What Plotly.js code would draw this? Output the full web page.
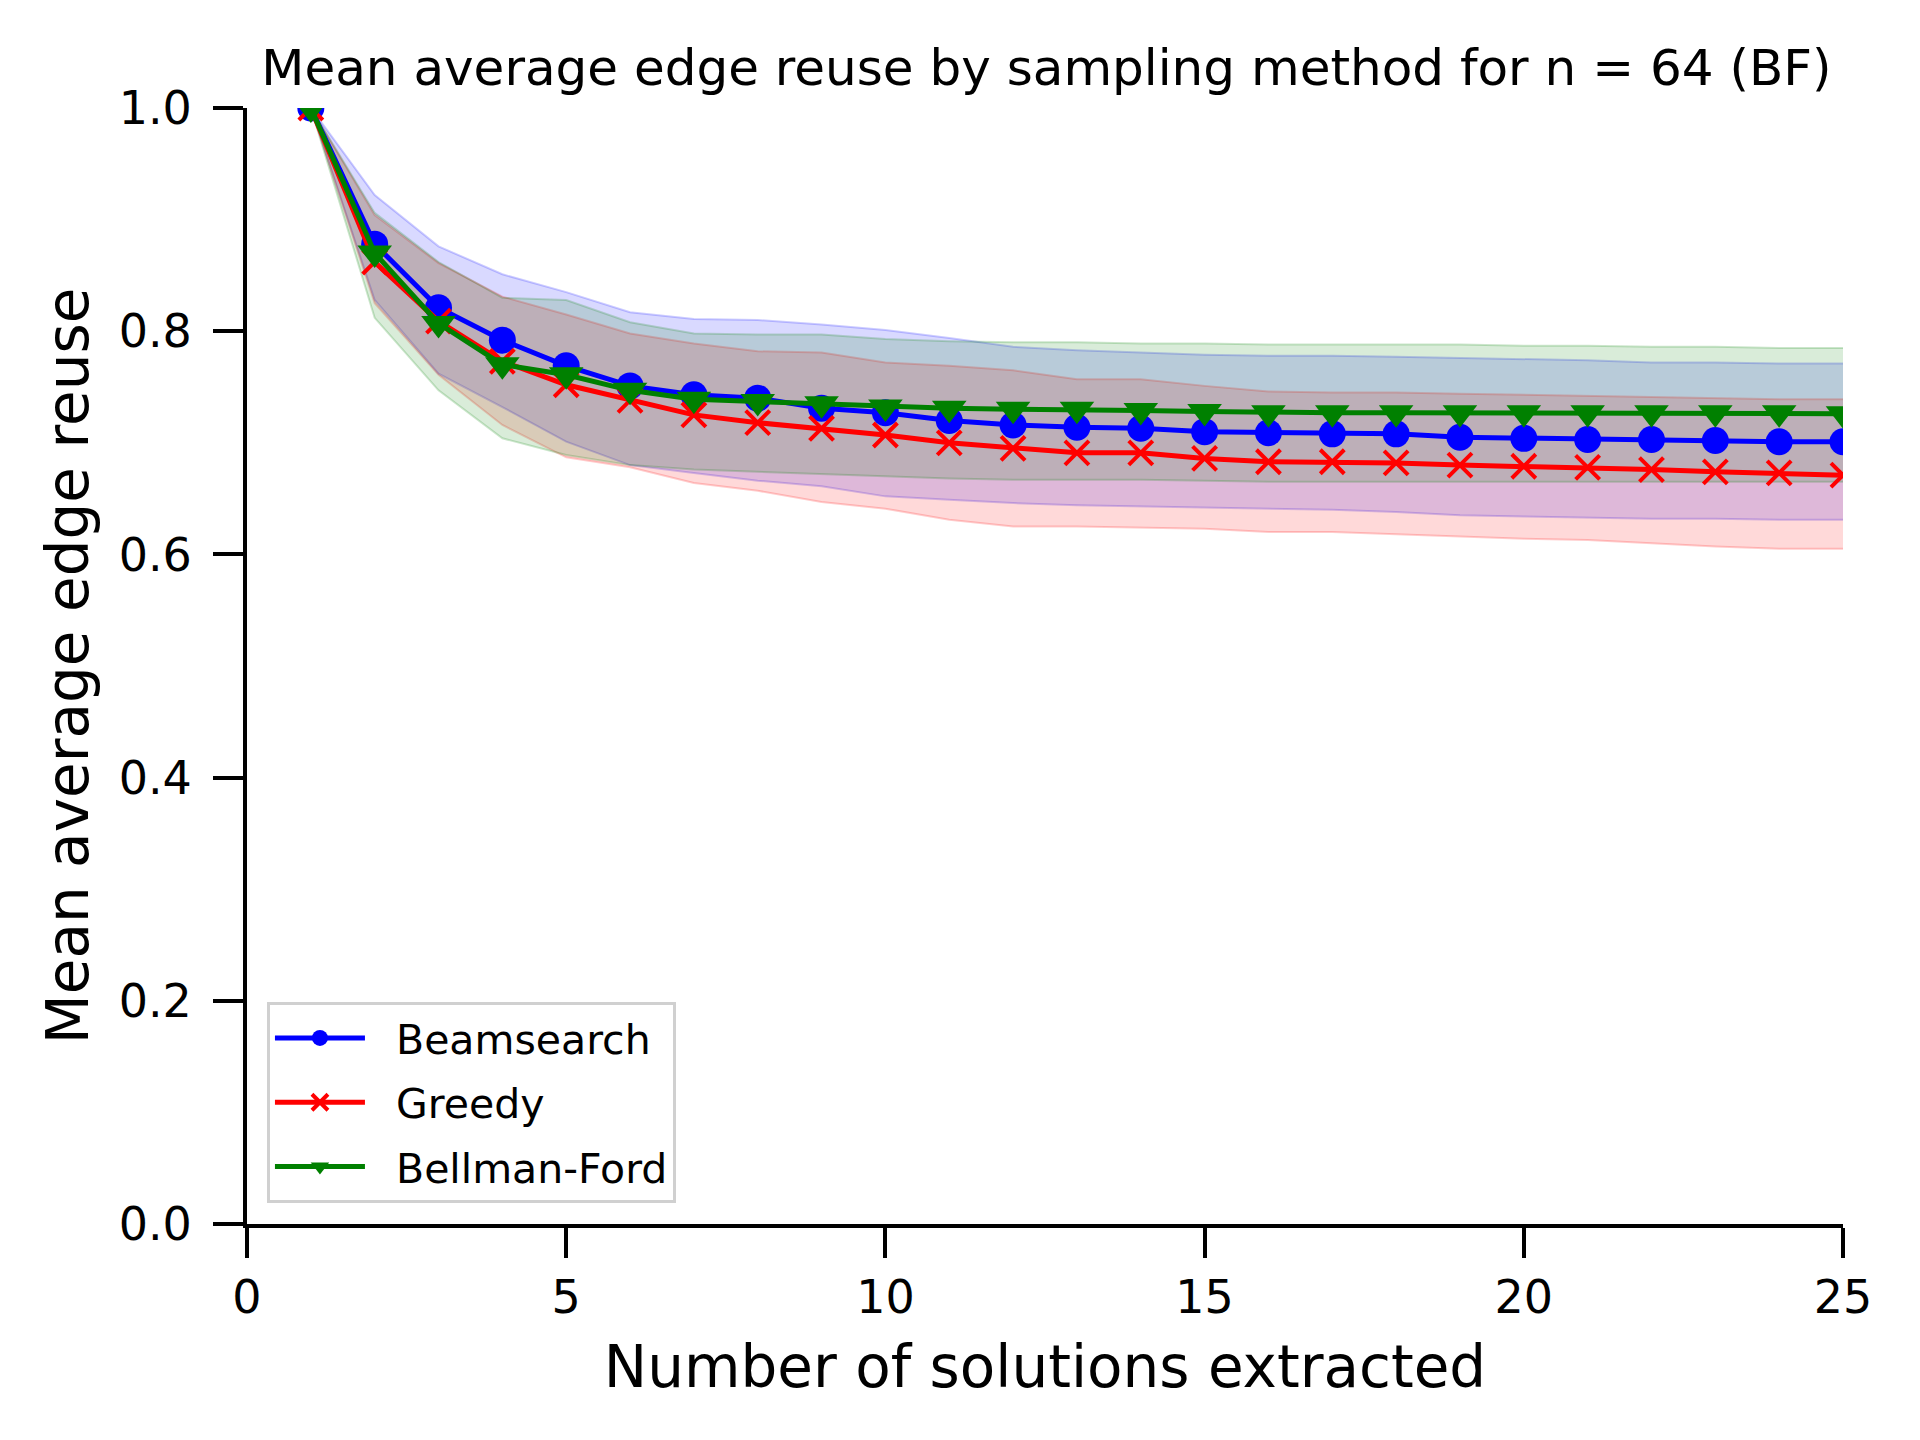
<!DOCTYPE html>
<html>
<head>
<meta charset="utf-8">
<script src="https://cdn.plot.ly/plotly-3.0.1.min.js"></script>
<style>
  body { margin: 0; background: #fff; }
  #chart { width: 1920px; height: 1440px; }
</style>
</head>
<body>
<div id="chart"></div>
<script>
var solutions = [1, 2, 3, 4, 5, 6, 7, 8, 9, 10, 11, 12, 13, 14, 15, 16, 17, 18, 19, 20, 21, 22, 23, 24, 25];

var beamMean  = [1.000, 0.878, 0.821, 0.792, 0.769, 0.751, 0.743, 0.740, 0.731, 0.727, 0.720, 0.716, 0.714, 0.713, 0.710, 0.709, 0.708, 0.708, 0.705, 0.704, 0.703, 0.703, 0.702, 0.701, 0.701];
var beamUpper = [1.000, 0.922, 0.876, 0.851, 0.835, 0.817, 0.811, 0.810, 0.806, 0.801, 0.794, 0.786, 0.783, 0.781, 0.779, 0.778, 0.778, 0.777, 0.776, 0.775, 0.774, 0.772, 0.772, 0.771, 0.771];
var beamLower = [1.000, 0.828, 0.762, 0.732, 0.701, 0.680, 0.673, 0.666, 0.661, 0.652, 0.649, 0.646, 0.644, 0.643, 0.642, 0.641, 0.640, 0.638, 0.635, 0.634, 0.633, 0.632, 0.632, 0.631, 0.631];

var greedyMean  = [1.000, 0.862, 0.809, 0.773, 0.752, 0.738, 0.725, 0.718, 0.713, 0.707, 0.700, 0.695, 0.691, 0.691, 0.686, 0.683, 0.683, 0.682, 0.680, 0.679, 0.678, 0.676, 0.674, 0.673, 0.671];
var greedyUpper = [1.000, 0.904, 0.861, 0.831, 0.815, 0.798, 0.789, 0.782, 0.781, 0.772, 0.769, 0.765, 0.757, 0.757, 0.751, 0.746, 0.745, 0.745, 0.744, 0.743, 0.742, 0.741, 0.740, 0.739, 0.739];
var greedyLower = [1.000, 0.825, 0.761, 0.716, 0.687, 0.678, 0.664, 0.657, 0.647, 0.641, 0.631, 0.625, 0.625, 0.624, 0.623, 0.620, 0.620, 0.618, 0.616, 0.614, 0.613, 0.610, 0.607, 0.605, 0.605];

var bfMean  = [1.000, 0.870, 0.807, 0.770, 0.761, 0.747, 0.739, 0.737, 0.735, 0.732, 0.731, 0.730, 0.730, 0.729, 0.728, 0.727, 0.727, 0.727, 0.727, 0.727, 0.727, 0.727, 0.727, 0.727, 0.726];
var bfUpper = [1.000, 0.906, 0.862, 0.830, 0.828, 0.808, 0.798, 0.797, 0.797, 0.793, 0.791, 0.790, 0.790, 0.789, 0.789, 0.788, 0.788, 0.788, 0.788, 0.787, 0.787, 0.786, 0.786, 0.785, 0.785];
var bfLower = [1.000, 0.812, 0.747, 0.704, 0.689, 0.680, 0.676, 0.674, 0.672, 0.670, 0.668, 0.667, 0.667, 0.667, 0.666, 0.665, 0.665, 0.665, 0.665, 0.665, 0.665, 0.665, 0.665, 0.665, 0.665];

var xTicks = [0, 5, 10, 15, 20, 25];
var yTicks = [0.0, 0.2, 0.4, 0.6, 0.8, 1.0];

// shaded band: lower edge first, upper edge fills down to it
function band(lower, upper, rgb) {
  var edge = {color: 'rgba(' + rgb + ',0.2)', width: 2};
  return [
    {x: solutions, y: lower, mode: 'lines', line: edge, showlegend: false, hoverinfo: 'skip', type: 'scatter'},
    {x: solutions, y: upper, mode: 'lines', line: edge, fill: 'tonexty',
     fillcolor: 'rgba(' + rgb + ',0.15)', showlegend: false, hoverinfo: 'skip', type: 'scatter'}
  ];
}

var pad = '\u00a0\u00a0'

var beam = {
  x: solutions, y: beamMean, name: pad + 'Beamsearch', legendgroup: 'a', mode: 'lines+markers',
  line: {color: '#0000ff', width: 5},
  marker: {symbol: 'circle', size: 27, color: '#0000ff'},
  type: 'scatter'
};
var greedy = {
  x: solutions, y: greedyMean, name: pad + 'Greedy', legendgroup: 'b', mode: 'lines+markers',
  line: {color: '#ff0000', width: 5},
  marker: {symbol: 'x-thin-open', size: 24, color: '#ff0000', line: {color: '#ff0000', width: 4}},
  type: 'scatter'
};
var bf = {
  x: solutions, y: bfMean, name: pad + 'Bellman-Ford', legendgroup: 'c', mode: 'lines+markers',
  line: {color: '#008000', width: 5},
  marker: {symbol: 'triangle-down', size: 30, color: '#008000'},
  type: 'scatter'
};

var data = []
  .concat(band(beamLower, beamUpper, '0,0,255'))
  .concat(band(greedyLower, greedyUpper, '255,0,0'))
  .concat(band(bfLower, bfUpper, '0,128,0'))
  .concat([beam, greedy, bf]);

var axisStyle = {
  showgrid: false,
  zeroline: false,
  showline: true,
  linecolor: '#000',
  linewidth: 4,
  ticks: 'outside',
  ticklen: 30,
  tickwidth: 4,
  tickcolor: '#000',
  tickfont: {size: 46, color: '#000'},
  automargin: true
};

var layout = {
  width: 1920,
  height: 1440,
  margin: {l: 247, r: 77, t: 108, b: 216},
  paper_bgcolor: '#fff',
  plot_bgcolor: '#fff',
  font: {family: 'DejaVu Sans', color: '#000'},
  title: {
    text: 'Mean average edge reuse by sampling method for n = 64 (BF)',
    font: {size: 50, color: '#000'},
    x: 0.545, xanchor: 'center',
    y: 0.953, yanchor: 'middle', yref: 'container'
  },
  xaxis: Object.assign({}, axisStyle, {
    range: [0, 25],
    tickvals: xTicks,
    ticklabelstandoff: 0,
    title: {text: 'Number of solutions extracted', font: {size: 58, color: '#000'}, standoff: 24}
  }),
  yaxis: Object.assign({}, axisStyle, {
    range: [0, 1],
    tickvals: yTicks,
    tickformat: '.1f',
    ticklabelstandoff: 12,
    title: {text: 'Mean average edge reuse', font: {size: 58, color: '#000'}, standoff: 12}
  }),
  showlegend: true,
  legend: {
    x: 0.0125, y: 0.019, xanchor: 'left', yanchor: 'bottom',
    bgcolor: 'rgba(255,255,255,0.8)',
    bordercolor: '#d0d0d0', borderwidth: 3,
    font: {size: 41, color: '#000'},
    itemwidth: 90,
    traceorder: 'grouped',
    tracegroupgap: 8
  }
};

Plotly.newPlot('chart', data, layout, {displayModeBar: false});
</script>
</body>
</html>
